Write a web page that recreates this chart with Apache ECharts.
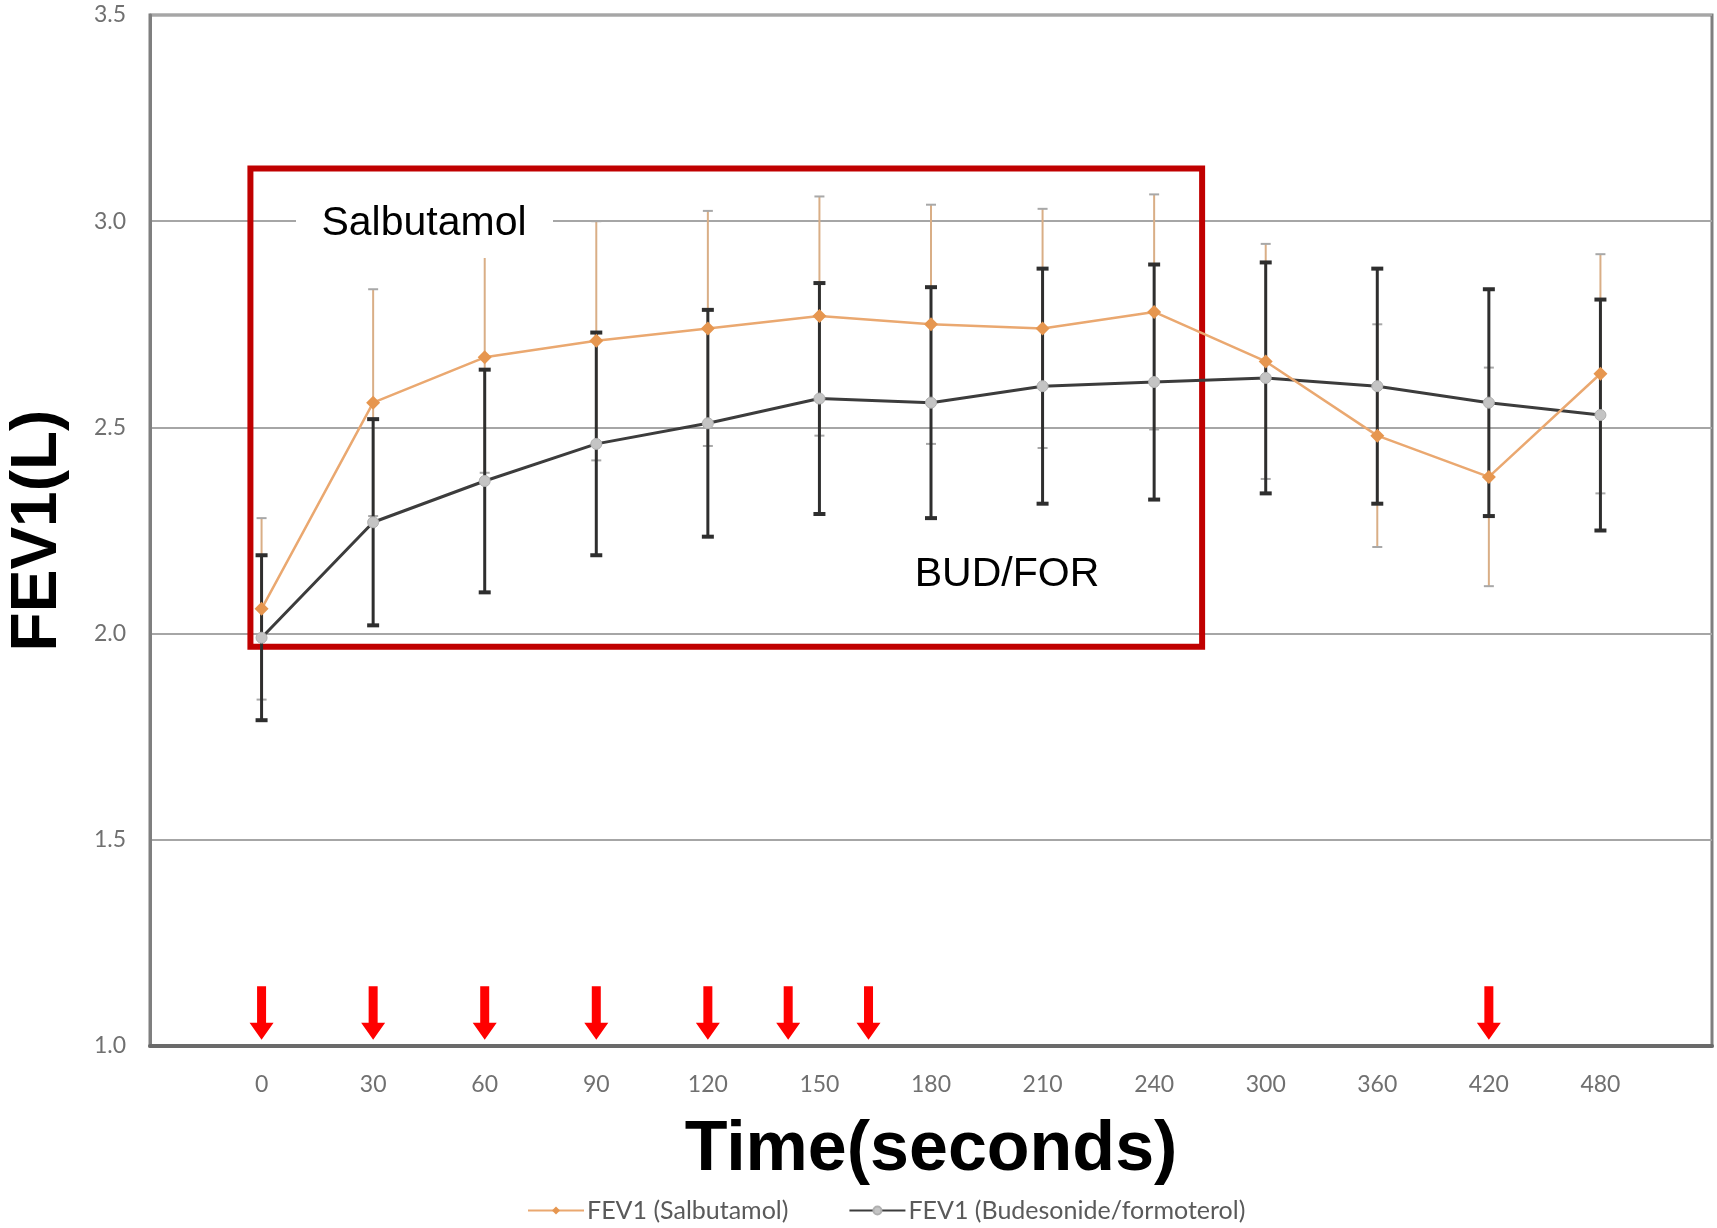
<!DOCTYPE html>
<html>
<head>
<meta charset="utf-8">
<script src="https://cdn.jsdelivr.net/npm/echarts@6/dist/echarts.min.js"></script>
<style>
  html, body { margin: 0; padding: 0; background: #fff; }
  #chart { width: 1717px; height: 1228px; }
</style>
</head>
<body>
<div id="chart"></div>
<script>
// time points (x axis labels), drawn at index positions 0..12
const timeLabels = ["0", "30", "60", "90", "120", "150", "180", "210", "240", "300", "360", "420", "480"];
// FEV1 means and error half-widths
const salMean = [2.06, 2.56, 2.67, 2.71, 2.74, 2.77, 2.75, 2.74, 2.78, 2.66, 2.48, 2.38, 2.63];
const salErr = [0.22, 0.275, 0.28, 0.29, 0.285, 0.29, 0.29, 0.29, 0.285, 0.285, 0.27, 0.265, 0.29];
const budMean = [1.99, 2.27, 2.37, 2.46, 2.51, 2.57, 2.56, 2.60, 2.61, 2.62, 2.60, 2.56, 2.53];
const budErr = [0.20, 0.25, 0.27, 0.27, 0.275, 0.28, 0.28, 0.285, 0.285, 0.28, 0.285, 0.275, 0.28];
// red arrow markers (index positions on the time axis)
const arrowPos = [0, 1, 2, 3, 4, 4.72, 5.44, 11];

const chart = echarts.init(document.getElementById("chart"));

const toPoints = (arr) => arr.map((v, i) => [i, v]);
const toBars = (mean, err) => mean.map((v, i) => [i, v - err[i], v + err[i]]);

// error bar drawing
const errorBar = (color, width, capColor, capW, capLw) => (params, api) => {
  const x = api.value(0);
  const lo = api.coord([x, api.value(1)]);
  const hi = api.coord([x, api.value(2)]);
  return {
    type: "group",
    children: [
      { type: "line", shape: { x1: hi[0], y1: hi[1], x2: lo[0], y2: lo[1] }, style: { stroke: color, lineWidth: width } },
      { type: "line", shape: { x1: hi[0] - capW, y1: hi[1], x2: hi[0] + capW, y2: hi[1] }, style: { stroke: capColor, lineWidth: capLw } },
      { type: "line", shape: { x1: lo[0] - capW, y1: lo[1], x2: lo[0] + capW, y2: lo[1] }, style: { stroke: capColor, lineWidth: capLw } },
    ],
  };
};

const option = {
  animation: false,
  backgroundColor: "#fff",
  grid: {
    left: 150, right: 5, top: 15, bottom: 182,
    outerBoundsMode: "none",
    containLabel: false,
    show: true, borderColor: "#7f7f7f", borderWidth: 3,
  },
  xAxis: {
    type: "value",
    min: -1, max: 13, interval: 1,
    name: "Time(seconds)",
    nameLocation: "middle",
    nameGap: 70,
    nameTextStyle: { fontFamily: "Liberation Sans", fontWeight: "bold", fontSize: 70, color: "#000" },
    axisLine: { show: true, onZero: false, lineStyle: { color: "#6a6a6a", width: 4 } },
    axisTick: { show: false },
    splitLine: { show: false },
    axisLabel: {
      margin: 27,
      fontFamily: "Lato", fontSize: 23, color: "#707070",
      formatter: (v) => (timeLabels[v] !== undefined ? timeLabels[v] : ""),
    },
  },
  yAxis: {
    type: "value",
    min: 1.0, max: 3.5, interval: 0.5,
    name: "FEV1(L)",
    nameLocation: "middle",
    nameRotate: 90,
    nameGap: 80,
    nameTextStyle: { fontFamily: "Liberation Sans", fontWeight: "bold", fontSize: 64, color: "#000" },
    axisLine: { show: true, onZero: false, lineStyle: { color: "#7f7f7f", width: 3 } },
    axisTick: { show: false },
    splitLine: { show: true, lineStyle: { color: "#a6a6a6", width: 2 } },
    axisLabel: {
      margin: 24,
      fontFamily: "Lato", fontSize: 23, color: "#707070",
      formatter: (v) => v.toFixed(1),
    },
  },
  legend: {
    bottom: 0,
    left: 522,
    itemGap: 60,
    itemWidth: 56,
    itemHeight: 10,
    textStyle: { fontFamily: "Lato", fontSize: 25, color: "#5a5a5a", padding: [0, 0, 0, -2] },
    data: ["FEV1 (Salbutamol)", "FEV1 (Budesonide/formoterol)"],
  },
  series: [
    {
      name: "salErr",
      type: "custom",
      z: 2,
      renderItem: errorBar("#d9ae86", 2, "#a8a8a8", 5, 2),
      data: toBars(salMean, salErr),
    },
    {
      name: "budErr",
      type: "custom",
      z: 3,
      renderItem: errorBar("#2e2e2e", 3, "#2e2e2e", 6, 4),
      data: toBars(budMean, budErr),
    },
    {
      name: "FEV1 (Budesonide/formoterol)",
      type: "line",
      z: 4,
      data: toPoints(budMean),
      symbol: "circle",
      symbolSize: 11,
      itemStyle: { color: "#c4c4c4", borderColor: "#b0b0b0", borderWidth: 1 },
      lineStyle: { color: "#3c3c3c", width: 3 },
    },
    {
      name: "FEV1 (Salbutamol)",
      type: "line",
      z: 5,
      data: toPoints(salMean),
      symbol: "diamond",
      symbolSize: 14,
      itemStyle: { color: "#e6964f" },
      lineStyle: { color: "#eaa870", width: 2.5 },
    },
    {
      name: "arrows",
      type: "custom",
      z: 6,
      data: arrowPos.map((x) => [x]),
      renderItem: (params, api) => {
        const x = api.value(0);
        const top = api.coord([x, 1.145]);
        const tip = api.coord([x, 1.015]);
        const headH = 17, headW = 12, shaftW = 4.5;
        const neck = tip[1] - headH;
        return {
          type: "polygon",
          shape: {
            points: [
              [top[0] - shaftW, top[1]], [top[0] + shaftW, top[1]],
              [top[0] + shaftW, neck], [top[0] + headW, neck],
              [tip[0], tip[1]],
              [top[0] - headW, neck], [top[0] - shaftW, neck],
            ],
          },
          style: { fill: "#ff0000" },
        };
      },
      markArea: {
        silent: true,
        itemStyle: { color: "rgba(0,0,0,0)", borderColor: "#c00000", borderWidth: 6 },
        data: [[{ coord: [-0.1, 3.128] }, { coord: [8.43, 1.968] }]],
      },
    },
  ],
  graphic: [
    {
      type: "rect",
      z: 100,
      shape: { x: 296, y: 190, width: 257, height: 68 },
      style: { fill: "#fff" },
    },
    {
      type: "text",
      z: 101,
      x: 424, y: 224,
      style: {
        text: "Salbutamol",
        fontFamily: "Liberation Sans", fontSize: 41, fill: "#000",
        align: "center", verticalAlign: "middle",
      },
    },
    {
      type: "text",
      z: 101,
      x: 1007, y: 575,
      style: {
        text: "BUD/FOR",
        fontFamily: "Liberation Sans", fontSize: 41, fill: "#000",
        align: "center", verticalAlign: "middle",
      },
    },
  ],
};

chart.setOption(option);
</script>
</body>
</html>
